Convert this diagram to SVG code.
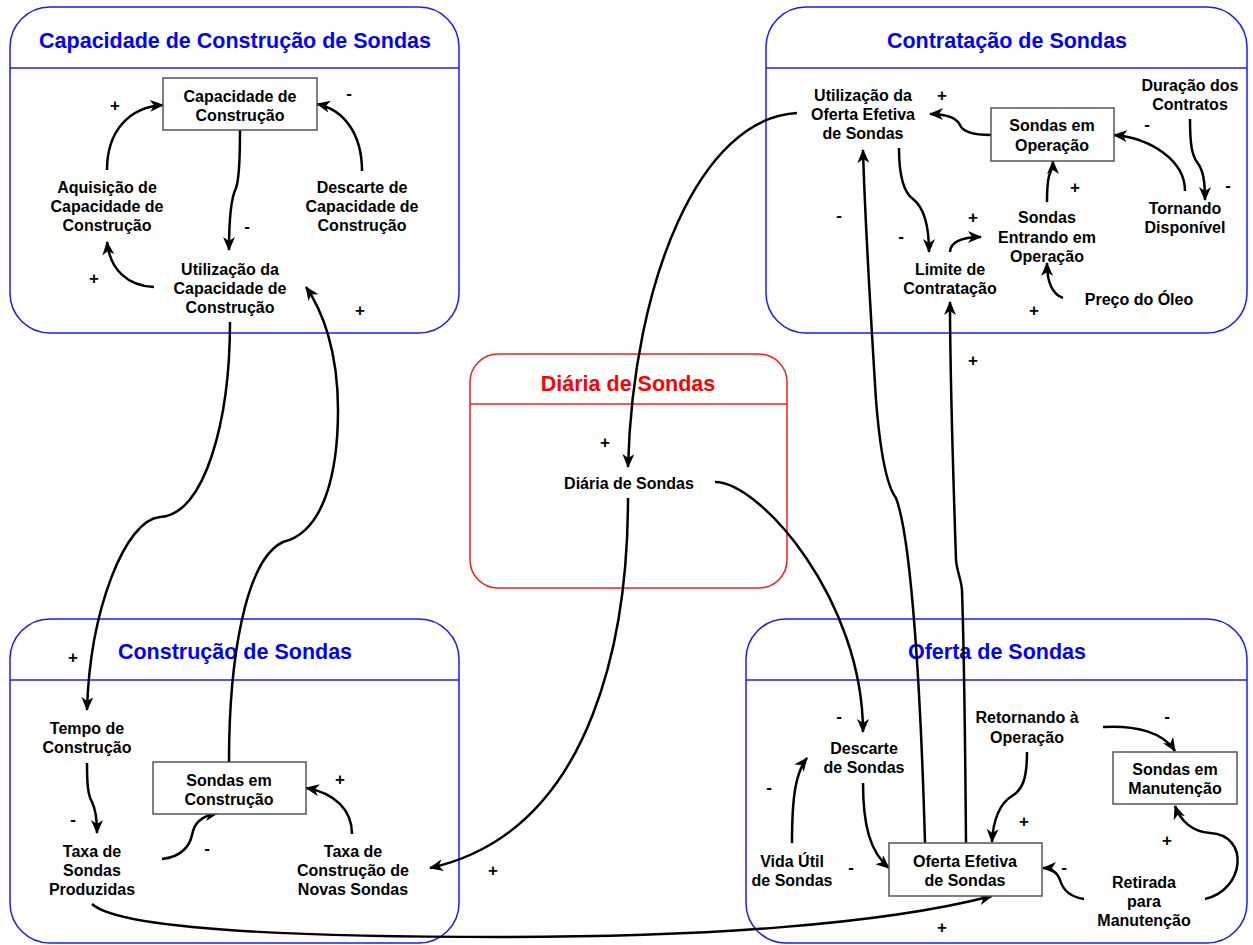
<svg xmlns="http://www.w3.org/2000/svg" width="1253" height="945" viewBox="0 0 1253 945">
<defs>
<marker id="ah" viewBox="0 0 14 12" refX="13" refY="6" markerWidth="14" markerHeight="12" markerUnits="userSpaceOnUse" orient="auto">
<path d="M0,0 L14,6 L0,12 L4,6 z" fill="#000"/>
</marker>
<style>
.pnl{fill:none;stroke:#1a1aff;stroke-width:1.5}
.pnlr{fill:none;stroke:#ff1a1a;stroke-width:1.5}
.ttl{font-family:"Liberation Sans",Arial,sans-serif;font-weight:bold;font-size:21.5px;fill:#0000ff;text-anchor:middle}
.ttlr{font-family:"Liberation Sans",Arial,sans-serif;font-weight:bold;font-size:21.5px;fill:#ff0000;text-anchor:middle}
.t{font-family:"Liberation Sans",Arial,sans-serif;font-weight:bold;font-size:16px;fill:#000;text-anchor:middle}
.s{font-family:"Liberation Sans",Arial,sans-serif;font-weight:bold;font-size:17px;fill:#000;text-anchor:middle}
.box{fill:#fff;stroke:#555;stroke-width:1.5}
.c{fill:none;stroke:#000;stroke-width:2.5;marker-end:url(#ah)}
</style>
</defs>
<rect width="1253" height="945" fill="#fff"/>

<g id="panel-capacidade">
<rect class="pnl" x="10" y="7" width="449" height="326" rx="40"/>
<line class="pnl" x1="10" y1="68" x2="459" y2="68"/>
<text class="ttl" x="235" y="48">Capacidade de Construção de Sondas</text>
</g>
<g id="panel-contratacao">
<rect class="pnl" x="766" y="7" width="481" height="326" rx="40"/>
<line class="pnl" x1="766" y1="68" x2="1247" y2="68"/>
<text class="ttl" x="1007" y="48">Contratação de Sondas</text>
</g>
<g id="panel-diaria">
<rect class="pnlr" x="470" y="354" width="317" height="234" rx="28"/>
<line class="pnlr" x1="470" y1="404" x2="787" y2="404"/>
<text class="ttlr" x="628" y="391">Diária de Sondas</text>
</g>
<g id="panel-construcao">
<rect class="pnl" x="10" y="619" width="449" height="324" rx="40"/>
<line class="pnl" x1="10" y1="680" x2="459" y2="680"/>
<text class="ttl" x="235" y="659">Construção de Sondas</text>
</g>
<g id="panel-oferta">
<rect class="pnl" x="746" y="619" width="501" height="324" rx="40"/>
<line class="pnl" x1="746" y1="680" x2="1247" y2="680"/>
<text class="ttl" x="997" y="659">Oferta de Sondas</text>
</g>

<g id="connectors">
<path class="c" d="M107,170 C107,130 130,107 163,105"/>
<path class="c" d="M362,171 C362,135 345,110 317,104"/>
<path class="c" d="M240,130 C240,160 239,180 236,188 C231,198 229,215 229,250"/>
<path class="c" d="M154,287 C128,286 110,270 107,242"/>
<path class="c" d="M230,322 C230,420 205,515 160,517 C125,520 90,610 87,710"/>
<path class="c" d="M229,762 C229,660 245,560 283,542 C325,532 338,470 338,410 C338,350 322,310 306,287"/>
<path class="c" d="M991,135 C970,135 962,130 960,125 C956,117 945,114 930,114"/>
<path class="c" d="M1185,191 C1185,160 1150,138 1114,135"/>
<path class="c" d="M1190,119 C1190,145 1192,155 1197,162 C1203,170 1205,180 1205,200"/>
<path class="c" d="M1047,202 C1047,185 1048,180 1049,176 C1051,170 1053,168 1053,161"/>
<path class="c" d="M1063,298 C1052,294 1047,283 1047,263"/>
<path class="c" d="M950,252 C950,243 960,237 981,237"/>
<path class="c" d="M899,148 C899,175 903,192 913,199 C922,206 929,222 929,252"/>
<path class="c" d="M925,843 C921,700 912,540 896,498 C886,485 880,450 876,400 C871,320 865,220 863,150"/>
<path class="c" d="M966,843 C965,720 963,620 962,590 C961,578 957,572 956,560 C954,500 950,380 950,302"/>
<path class="c" d="M797,113 C700,118 633,280 628,467"/>
<path class="c" d="M715,482 C760,482 863,600 863,732"/>
<path class="c" d="M628,498 C628,620 600,830 430,868"/>
<path class="c" d="M87,763 C87,785 88,795 92,802 C96,810 97,820 97,833"/>
<path class="c" d="M162,859 C182,857 190,845 192,835 C194,824 200,816 218,813"/>
<path class="c" d="M352,834 C352,810 335,793 306,788"/>
<path class="c" d="M92,904 C120,930 300,937 500,937 C700,937 880,925 992,896"/>
<path class="c" d="M863,783 C863,825 870,852 889,868"/>
<path class="c" d="M792,843 C792,795 796,772 807,758"/>
<path class="c" d="M1027,752 C1027,780 1022,790 1012,796 C1000,803 993,820 992,842"/>
<path class="c" d="M1103,727 C1135,725 1163,732 1175,751"/>
<path class="c" d="M1205,899 C1245,890 1250,835 1210,833 C1192,832 1180,820 1175,806"/>
<path class="c" d="M1084,899 C1070,897 1063,890 1060,880 C1057,872 1052,868 1043,868"/>
</g>

<g id="signs">
<text class="s" x="115" y="111">+</text>
<text class="s" x="349" y="99">-</text>
<text class="s" x="247" y="232">-</text>
<text class="s" x="94" y="284">+</text>
<text class="s" x="360" y="316">+</text>
<text class="s" x="942" y="101">+</text>
<text class="s" x="1147" y="130">-</text>
<text class="s" x="1228" y="191">-</text>
<text class="s" x="1075" y="193">+</text>
<text class="s" x="973" y="223">+</text>
<text class="s" x="839" y="221">-</text>
<text class="s" x="901" y="242">-</text>
<text class="s" x="1034" y="316">+</text>
<text class="s" x="973" y="366">+</text>
<text class="s" x="605" y="448">+</text>
<text class="s" x="73" y="663">+</text>
<text class="s" x="73" y="825">-</text>
<text class="s" x="207" y="854">-</text>
<text class="s" x="340" y="785">+</text>
<text class="s" x="493" y="876">+</text>
<text class="s" x="839" y="722">-</text>
<text class="s" x="769" y="793">-</text>
<text class="s" x="851" y="873">-</text>
<text class="s" x="1024" y="827">+</text>
<text class="s" x="1064" y="873">-</text>
<text class="s" x="1167" y="722">-</text>
<text class="s" x="1167" y="846">+</text>
<text class="s" x="942" y="933">+</text>
</g>

<g id="capacidade-construcao">
<rect class="box" x="163" y="78" width="154" height="52"/>
<text class="t" x="240" y="101.5">Capacidade de</text>
<text class="t" x="240" y="120.5">Construção</text>
</g>
<g id="aquisicao-capacidade">
<text class="t" x="107" y="193">Aquisição de</text>
<text class="t" x="107" y="212">Capacidade de</text>
<text class="t" x="107" y="231">Construção</text>
</g>
<g id="descarte-capacidade">
<text class="t" x="362" y="193">Descarte de</text>
<text class="t" x="362" y="212">Capacidade de</text>
<text class="t" x="362" y="231">Construção</text>
</g>
<g id="utilizacao-capacidade">
<text class="t" x="230" y="275">Utilização da</text>
<text class="t" x="230" y="294">Capacidade de</text>
<text class="t" x="230" y="313">Construção</text>
</g>

<g id="utilizacao-oferta">
<text class="t" x="863" y="101">Utilização da</text>
<text class="t" x="863" y="120">Oferta Efetiva</text>
<text class="t" x="863" y="139">de Sondas</text>
</g>
<g id="sondas-operacao">
<rect class="box" x="991" y="108" width="123" height="53"/>
<text class="t" x="1052" y="131">Sondas em</text>
<text class="t" x="1052" y="150.5">Operação</text>
</g>
<g id="duracao-contratos">
<text class="t" x="1190" y="91">Duração dos</text>
<text class="t" x="1190" y="110">Contratos</text>
</g>
<g id="tornando-disponivel">
<text class="t" x="1185" y="214">Tornando</text>
<text class="t" x="1185" y="233">Disponível</text>
</g>
<g id="sondas-entrando">
<text class="t" x="1047" y="223">Sondas</text>
<text class="t" x="1047" y="243">Entrando em</text>
<text class="t" x="1047" y="262">Operação</text>
</g>
<g id="limite-contratacao">
<text class="t" x="950" y="275">Limite de</text>
<text class="t" x="950" y="294">Contratação</text>
</g>
<g id="preco-oleo">
<text class="t" x="1139" y="305">Preço do Óleo</text>
</g>

<g id="diaria-sondas">
<text class="t" x="629" y="489">Diária de Sondas</text>
</g>

<g id="tempo-construcao">
<text class="t" x="87" y="734">Tempo de</text>
<text class="t" x="87" y="753">Construção</text>
</g>
<g id="sondas-construcao">
<rect class="box" x="153" y="762" width="153" height="52"/>
<text class="t" x="229" y="786">Sondas em</text>
<text class="t" x="229" y="805">Construção</text>
</g>
<g id="taxa-produzidas">
<text class="t" x="92" y="857">Taxa de</text>
<text class="t" x="92" y="876">Sondas</text>
<text class="t" x="92" y="895">Produzidas</text>
</g>
<g id="taxa-construcao-novas">
<text class="t" x="353" y="857">Taxa de</text>
<text class="t" x="353" y="876">Construção de</text>
<text class="t" x="353" y="895">Novas Sondas</text>
</g>

<g id="descarte-sondas">
<text class="t" x="864" y="754">Descarte</text>
<text class="t" x="864" y="773">de Sondas</text>
</g>
<g id="retornando-operacao">
<text class="t" x="1027" y="723">Retornando à</text>
<text class="t" x="1027" y="743">Operação</text>
</g>
<g id="sondas-manutencao">
<rect class="box" x="1113" y="752" width="124" height="52"/>
<text class="t" x="1175" y="775">Sondas em</text>
<text class="t" x="1175" y="794">Manutenção</text>
</g>
<g id="oferta-efetiva">
<rect class="box" x="889" y="843" width="153" height="53"/>
<text class="t" x="965" y="867">Oferta Efetiva</text>
<text class="t" x="965" y="886">de Sondas</text>
</g>
<g id="vida-util">
<text class="t" x="792" y="867">Vida Útil</text>
<text class="t" x="792" y="886">de Sondas</text>
</g>
<g id="retirada-manutencao">
<text class="t" x="1144" y="888">Retirada</text>
<text class="t" x="1144" y="907">para</text>
<text class="t" x="1144" y="926">Manutenção</text>
</g>
</svg>
